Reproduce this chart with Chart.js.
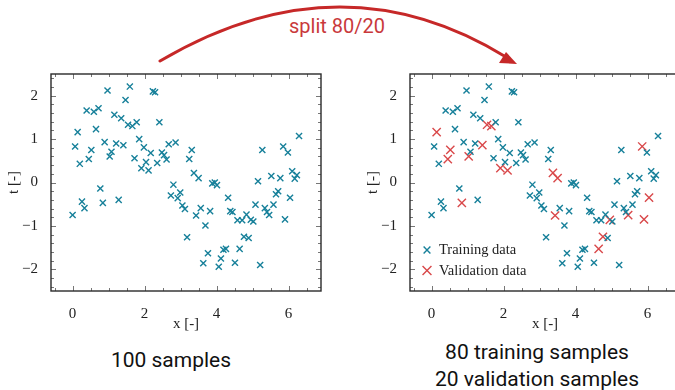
<!DOCTYPE html>
<html>
<head>
<meta charset="utf-8">
<script src="https://cdn.jsdelivr.net/npm/chart.js@4.4.0/dist/chart.umd.min.js"></script>
<style>
  html, body { margin: 0; padding: 0; background: #fff; overflow: hidden; }
  body { width: 675px; height: 390px; position: relative; font-family: Roboto, sans-serif; }
  .plot { position: absolute; top: 60px; width: 335px; height: 280px; }
  #leftBox { left: 0; }
  #rightBox { left: 359px; }
  .cap { position: absolute; font-size: 21px; color: #111; text-align: center; width: 300px; }
  #arrow { position: absolute; left: 0; top: 0; }
  #splitLabel { position: absolute; left: 237px; top: 14px; width: 200px; text-align: center; color: #c9393b; font-size: 20px; }
</style>
</head>
<body>
<svg id="arrow" width="675" height="80">
  <path d="M160 61 Q340 -45 506 57" fill="none" stroke="#c62828" stroke-width="3" stroke-linecap="round"/>
  <polygon points="517,64 499,63 506,52" fill="#c62828"/>
</svg>
<div id="splitLabel">split 80/20</div>
<div class="plot" id="leftBox"><canvas id="leftChart"></canvas></div>
<div class="plot" id="rightBox"><canvas id="rightChart"></canvas></div>
<div class="cap" style="left:21px; top:348px;">100 samples</div>
<div class="cap" style="left:387px; top:340px;">80 training samples</div>
<div class="cap" style="left:387px; top:367px;">20 validation samples</div>

<script>
// training samples
const trainX = [0, 0.07, 0.2, 0.26, 0.33, 0.39, 0.59, 0.65, 0.72, 0.77,
  0.89, 0.97, 1.08, 1.16, 1.21, 1.28, 1.35, 1.47, 1.59, 1.72,
  1.78, 1.85, 1.98, 2.04, 2.17, 2.23, 2.29, 2.35, 2.41, 2.48,
  2.54, 2.61, 2.67, 2.73, 2.8, 2.86, 2.92, 2.99, 3.05, 3.12,
  3.18, 3.24, 3.31, 3.56, 3.63, 3.69, 3.76, 3.82, 3.88, 3.95,
  4.01, 4.06, 4.12, 4.19, 4.26, 4.32, 4.38, 4.44, 4.51, 4.58,
  4.71, 4.83, 4.89, 5.02, 5.08, 5.15, 5.21, 5.27, 5.34, 5.4,
  5.52, 5.58, 5.65, 5.71, 5.77, 5.98, 6.1, 6.17, 6.23, 6.29];
const trainT = [-0.75, 0.83, 0.43, -0.44, -0.59, 1.66, 1.63, 1.23, 1.71, -0.14,
  0.93, 2.12, 0.71, 1.56, 0.9, -0.4, 1.48, 1.9, 2.21, 0.56,
  1.39, 1.0, 0.81, 0.47, 0.68, 2.1, 2.08, 0.45, 1.39, 0.69,
  0.63, 0.53, 0.88, -0.3, -0.05, 0.92, -0.36, -0.23, -0.53, -0.61,
  -1.26, 0.54, 0.75, -0.59, -1.86, -0.99, -1.63, -0.66, -0.02, 0.0,
  -0.06, -1.94, -1.75, -1.55, -1.53, -0.35, -0.66, -0.68, -1.85, -0.87,
  -0.87, -0.74, -1.28, -0.9, -0.51, 0.03, -1.9, 0.75, -0.59, -0.68,
  0.15, -0.51, -0.27, -0.2, 0.1, 0.69, 0.26, 0.09, 0.17, 1.07];

// validation samples
const valX = [0.14, 0.45, 0.52, 0.84, 1.03, 1.41, 1.54, 1.66, 1.91, 2.11,
  3.37, 3.43, 3.5, 4.64, 4.76, 4.95, 5.46, 5.85, 5.9, 6.04];
const valT = [1.16, 0.54, 0.75, -0.47, 0.6, 0.86, 1.33, 1.3, 0.33, 0.28,
  0.22, -0.76, 0.1, -1.53, -1.25, -0.86, -0.75, 0.83, -0.85, -0.35];

const xTicks = [0, 2, 4, 6];
const yTicks = [-2, -1, 0, 1, 2];

const BLUE = '#17809a';
const RED = '#d9484a';
const SERIF = "'Liberation Serif', 'DejaVu Serif', serif";

function toPoints(xs, ts) {
  return xs.map(function(x, i) { return { x: x, y: ts[i] }; });
}

// frame with inward ticks on all four sides
const framePlugin = {
  id: 'frame',
  afterDatasetsDraw(chart) {
    const ctx = chart.ctx;
    const a = chart.chartArea;
    const sx = chart.scales.x;
    const sy = chart.scales.y;
    ctx.save();
    ctx.strokeStyle = '#777';
    ctx.lineWidth = 1;
    ctx.beginPath();
    for (let k = -1; k <= 13; k++) {
      const v = k * 0.5;
      const px = Math.round(sx.getPixelForValue(v)) + 0.5;
      const len = (k % 4 === 0) ? 5 : 3;
      ctx.moveTo(px, a.bottom); ctx.lineTo(px, a.bottom - len);
      ctx.moveTo(px, a.top); ctx.lineTo(px, a.top + len);
    }
    for (let k = -12; k <= 12; k++) {
      const v = k * 0.2;
      const py = Math.round(sy.getPixelForValue(v)) + 0.5;
      const len = (k % 5 === 0) ? 5 : 3;
      ctx.moveTo(a.left, py); ctx.lineTo(a.left + len, py);
      ctx.moveTo(a.right, py); ctx.lineTo(a.right - len, py);
    }
    ctx.stroke();
    ctx.strokeStyle = '#2a2a2a';
    ctx.lineWidth = 1.4;
    ctx.strokeRect(a.left, a.top, a.right - a.left, a.bottom - a.top);
    ctx.restore();
  }
};

// legend drawn inside the plot, lower left
const innerLegend = {
  id: 'innerLegend',
  afterDraw(chart) {
    const ctx = chart.ctx;
    const a = chart.chartArea;
    ctx.save();
    chart.data.datasets.forEach(function(ds, i) {
      const cx = a.left + 17;
      const cy = a.bottom - 41 + i * 20.5;
      const r = ds.pointRadius + 0.5;
      ctx.strokeStyle = ds.borderColor;
      ctx.lineWidth = ds.borderWidth;
      const d = r * Math.SQRT1_2;
      ctx.beginPath();
      ctx.moveTo(cx - d, cy - d); ctx.lineTo(cx + d, cy + d);
      ctx.moveTo(cx + d, cy - d); ctx.lineTo(cx - d, cy + d);
      ctx.stroke();
      ctx.fillStyle = '#222';
      ctx.font = '14.5px ' + SERIF;
      ctx.textBaseline = 'middle';
      ctx.fillText(ds.label, a.left + 29, cy + 0.5);
    });
    ctx.restore();
  }
};

function makeOptions() {
  return {
    responsive: false,
    animation: false,
    layout: { padding: { top: 10, right: 14, bottom: 0, left: 0 } },
    plugins: { legend: { display: false }, tooltip: { enabled: false } },
    scales: {
      x: {
        type: 'linear',
        min: -0.6,
        max: 6.9,
        afterBuildTicks: function(scale) {
          scale.ticks = xTicks.map(function(v) { return { value: v }; });
        },
        afterFit: function(scale) { scale.height = 49; },
        grid: { display: false },
        border: { display: false },
        ticks: {
          padding: 6,
          color: '#222',
          font: { family: SERIF, size: 15 },
          callback: function(v) { return String(v).replace('-', '\u2212'); }
        },
        title: {
          display: true,
          text: 'x [-]',
          color: '#222',
          font: { family: SERIF, size: 15 },
          padding: { top: 2, bottom: 7 }
        }
      },
      y: {
        type: 'linear',
        min: -2.5,
        max: 2.5,
        afterBuildTicks: function(scale) {
          scale.ticks = yTicks.map(function(v) { return { value: v }; });
        },
        afterFit: function(scale) { scale.width = 51; },
        grid: { display: false },
        border: { display: false },
        ticks: {
          padding: 5,
          color: '#222',
          font: { family: SERIF, size: 15 },
          callback: function(v) { return String(v).replace('-', '\u2212'); }
        },
        title: {
          display: true,
          text: 't [-]',
          color: '#222',
          font: { family: SERIF, size: 15 },
          padding: { top: 5, bottom: 4 }
        }
      }
    }
  };
}

function sizeCanvas(id) {
  const c = document.getElementById(id);
  c.width = 335; c.height = 280;
  c.style.width = '335px'; c.style.height = '280px';
  return c;
}

new Chart(sizeCanvas('leftChart'), {
  type: 'scatter',
  data: {
    datasets: [{
      label: 'Samples',
      data: toPoints(trainX.concat(valX), trainT.concat(valT)),
      pointStyle: 'crossRot',
      pointRadius: 4.3,
      borderColor: BLUE,
      backgroundColor: BLUE,
      borderWidth: 1.4
    }]
  },
  options: makeOptions(),
  plugins: [framePlugin]
});

new Chart(sizeCanvas('rightChart'), {
  type: 'scatter',
  data: {
    datasets: [{
      label: 'Training data',
      data: toPoints(trainX, trainT),
      pointStyle: 'crossRot',
      pointRadius: 4.3,
      borderColor: BLUE,
      backgroundColor: BLUE,
      borderWidth: 1.4
    }, {
      label: 'Validation data',
      data: toPoints(valX, valT),
      pointStyle: 'crossRot',
      pointRadius: 5.8,
      borderColor: RED,
      backgroundColor: RED,
      borderWidth: 1.4
    }]
  },
  options: makeOptions(),
  plugins: [framePlugin, innerLegend]
});
</script>
</body>
</html>
